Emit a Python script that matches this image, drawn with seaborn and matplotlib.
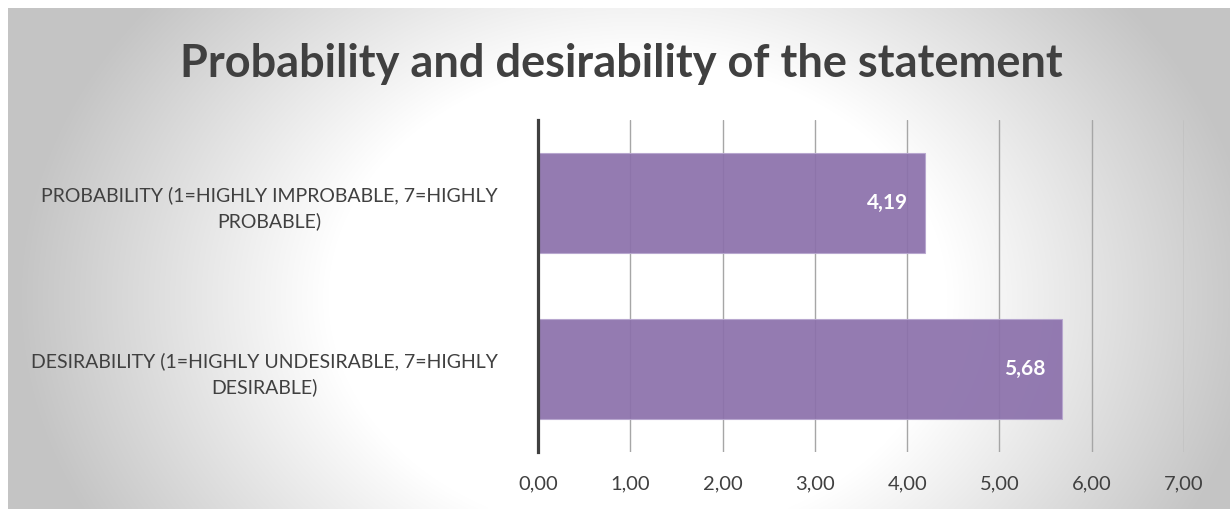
import numpy as np
import pandas as pd
import matplotlib
matplotlib.use("Agg")
import matplotlib.pyplot as plt
import seaborn as sns

categories = ["PROBABILITY (1=HIGHLY IMPROBABLE, 7=HIGHLY\nPROBABLE)",
              "DESIRABILITY (1=HIGHLY UNDESIRABLE, 7=HIGHLY\nDESIRABLE)"]
values = [4.19, 5.68]
xticks = [0, 1, 2, 3, 4, 5, 6, 7]
xtick_labels = ["0,00", "1,00", "2,00", "3,00", "4,00", "5,00", "6,00", "7,00"]
title = "Probability and desirability of the statement"

sns.set_style("white")
plt.rcParams["font.family"] = ["Lato", "DejaVu Sans"]

W, H = 1230, 509
fig = plt.figure(figsize=(W / 100, H / 100), dpi=100, facecolor="white")

# background radial gradient (chart area starts at 8px from left/top)
bg = fig.add_axes([8 / W, 0, (W - 8) / W, (H - 8) / H], zorder=-10)
bw, bh = W - 8, H - 8
yy, xx = np.mgrid[0:bh, 0:bw]
cx, cy = 630, 290
d = np.sqrt(((xx - cx) / 620) ** 2 + ((yy - cy) / 480) ** 2)
t = np.clip((d - 0.5) / 0.5, 0, 1)
gray = 1.0 - t * (1.0 - 0.77)
img = np.dstack([gray, gray, gray])
bg.imshow(img, aspect="auto", extent=[0, 1, 0, 1], origin="upper")
bg.set_axis_off()

df = pd.DataFrame({"cat": categories, "val": values})

ax = fig.add_axes([538 / W, 57 / H, (1184 - 538) / W, (452 - 120) / H])
ax.set_facecolor("none")
sns.barplot(data=df, x="val", y="cat", orient="h", color="#8b70ab", width=0.6,
            saturation=1, ax=ax, zorder=3, alpha=0.92,
            edgecolor="#b7a6cf", linewidth=0.8)
ax.set_xlim(0, 7)
ax.set_ylim(1.5, -0.5)
ax.set_xticks(xticks)
ax.set_xticklabels(xtick_labels)
ax.xaxis.grid(True, color="#a6a6a6", linewidth=1.0, zorder=1)
ax.set_axisbelow(True)
for s in ["top", "right", "bottom"]:
    ax.spines[s].set_visible(False)
ax.spines["left"].set_color("#404040")
ax.spines["left"].set_linewidth(2.3)
ax.spines["left"].set_zorder(5)
ax.tick_params(axis="x", length=0, pad=17, labelsize=14.5, labelcolor="#404040")
ax.tick_params(axis="y", length=0, pad=29, labelsize=14, labelcolor="#404040")
for lab in ax.get_yticklabels():
    lab.set_multialignment("center")
    lab.set_linespacing(1.55)
ax.set_xlabel("")
ax.set_ylabel("")

for i, v in enumerate(values):
    ax.annotate(f"{v:.2f}".replace(".", ","), xy=(v, i), xytext=(-12, 0),
                textcoords="offset points", ha="right", va="center",
                color="white", fontsize=15, fontweight="bold", zorder=6)

fig.text(0.505, (H - 77) / H, title, ha="center", va="baseline", fontsize=32.5,
         fontweight="bold", color="#404040")

fig.savefig("out.png", dpi=100)
